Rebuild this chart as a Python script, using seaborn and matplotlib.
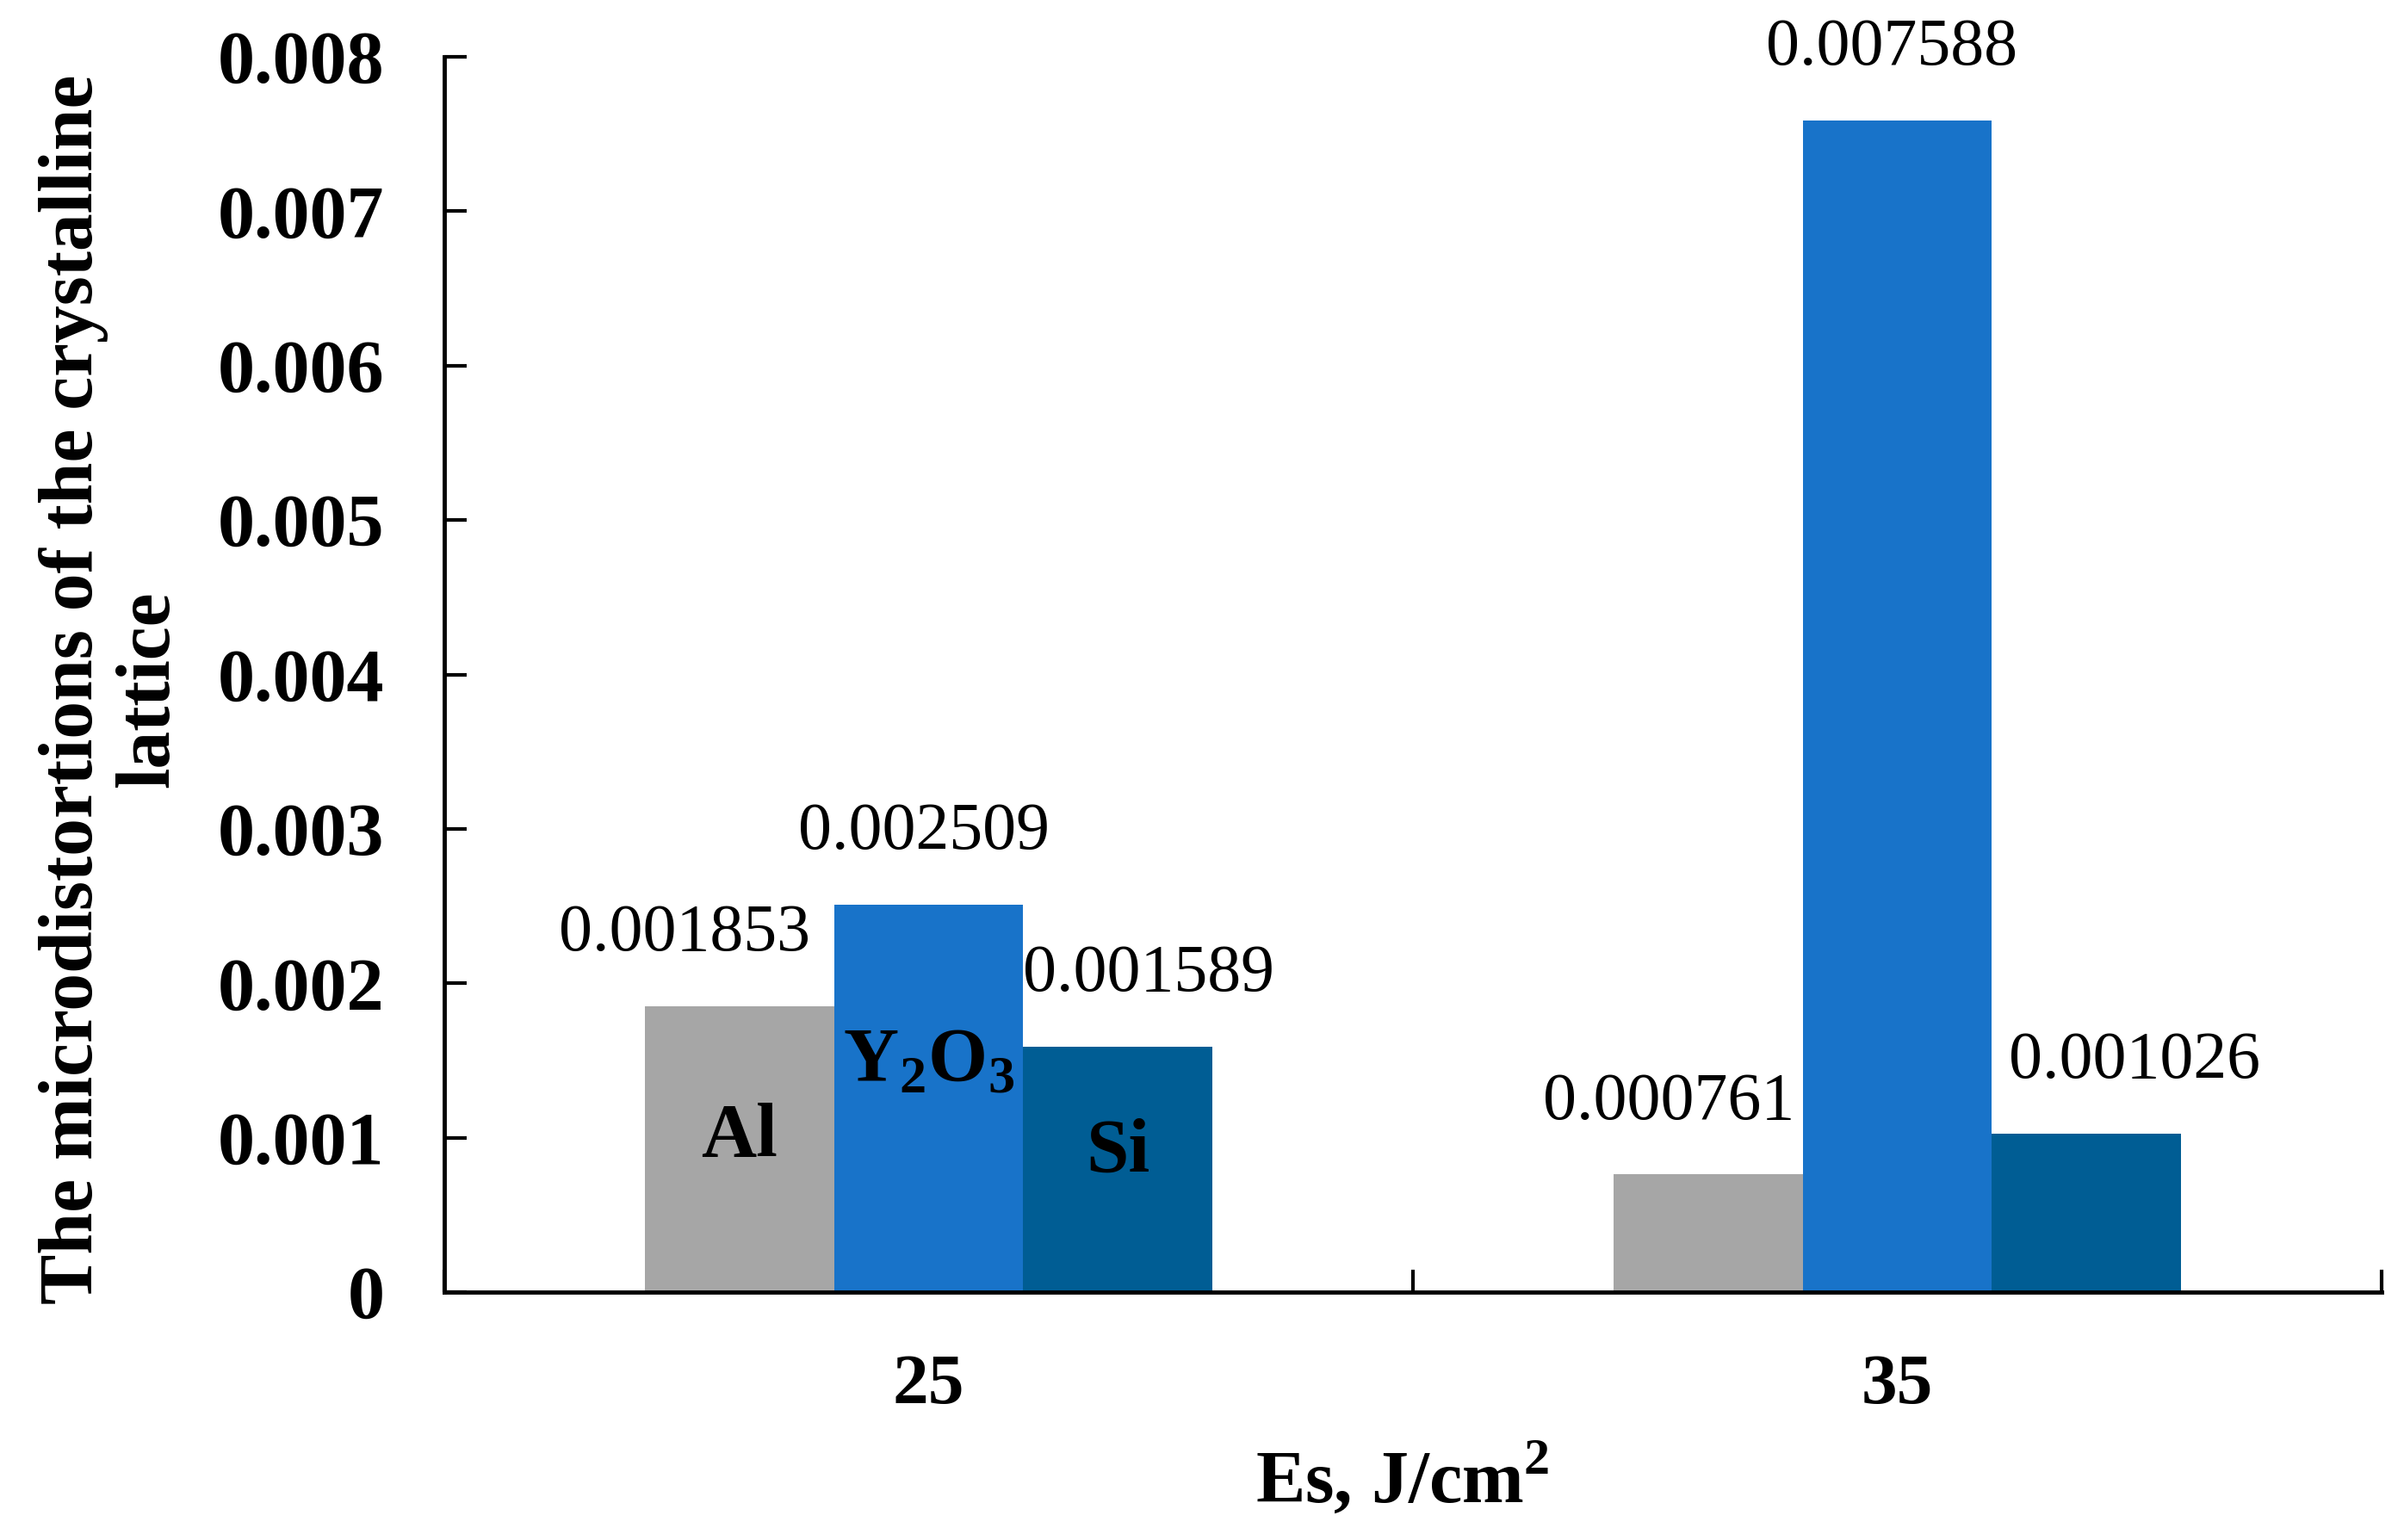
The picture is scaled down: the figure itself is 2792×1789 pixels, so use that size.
import matplotlib
matplotlib.use("Agg")
import matplotlib.pyplot as plt
import seaborn as sns
import pandas as pd
import numpy as np

# ---- data ----
energies = ["25", "35"]
materials = ["Al", "Y2O3", "Si"]
al_values = [0.001853, 0.000761]
y2o3_values = [0.002509, 0.007588]
si_values = [0.001589, 0.001026]
value_texts = {"Al": ["0.001853", "0.000761"],
               "Y2O3": ["0.002509", "0.007588"],
               "Si": ["0.001589", "0.001026"]}
inner_labels = {"Al": "Al", "Y2O3": r"Y$_\mathbf{2}$O$_\mathbf{3}$", "Si": "Si"}
inner_label_y = {"Al": 0.00100, "Y2O3": 0.00149, "Si": 0.00090}
y_ticks = [0, 0.001, 0.002, 0.003, 0.004, 0.005, 0.006, 0.007, 0.008]
y_tick_labels = ["0", "0.001", "0.002", "0.003", "0.004", "0.005", "0.006", "0.007", "0.008"]

colors = {"Al": "#A6A6A6", "Y2O3": "#1873C9", "Si": "#005D94"}
# label offsets (points) per series, per group
label_dx = {"Al": [-46, -33], "Y2O3": [-4, -5], "Si": [26, 40]}
label_dy = 60

df = pd.DataFrame({
    "Es": energies * 3,
    "Material": ["Al"] * 2 + ["Y2O3"] * 2 + ["Si"] * 2,
    "Value": al_values + y2o3_values + si_values,
})

sns.set_theme(style="white")
plt.rcParams["font.family"] = ["Liberation Serif", "DejaVu Serif"]
plt.rcParams["mathtext.fontset"] = "custom"
plt.rcParams["mathtext.rm"] = "Liberation Serif"
plt.rcParams["mathtext.bf"] = "Liberation Serif:bold"

fig = plt.figure(figsize=(27.92, 17.89), dpi=100)
ax = fig.add_axes([516 / 2792, 1 - 1501 / 1789, 2250 / 2792, 1435 / 1789])

sns.barplot(data=df, x="Es", y="Value", hue="Material", order=energies,
            hue_order=materials, palette=colors, width=0.586, gap=0,
            saturation=1, legend=False, ax=ax, linewidth=0)

ax.set_xlim(-0.5, 1.5)
ax.set_ylim(0, 0.008)
ax.set_yticks(y_ticks)
ax.set_yticklabels(y_tick_labels, fontsize=62, fontweight="bold")
ax.set_xticks([0, 1])
ax.set_xticklabels(energies, fontsize=60, fontweight="bold")
ax.set_xticks([-0.5, 0.5, 1.5], minor=True)

for s in ["top", "right"]:
    ax.spines[s].set_visible(False)
for s in ["left", "bottom"]:
    ax.spines[s].set_color("black")
    ax.spines[s].set_linewidth(3.5)

ax.tick_params(axis="y", direction="in", length=19, width=3, color="black",
               pad=50, labelcolor="black", left=True)
ax.tick_params(axis="x", which="major", length=0, pad=52, labelcolor="black")
ax.tick_params(axis="x", which="minor", direction="in", length=19, width=3,
               color="black", bottom=True)

# value labels and inner labels
for mat, cont in zip(materials, ax.containers):
    for i, bar in enumerate(cont):
        cx = bar.get_x() + bar.get_width() / 2
        h = bar.get_height()
        ax.annotate(value_texts[mat][i], xy=(cx, h),
                    xytext=(label_dx[mat][i], label_dy), textcoords="offset points",
                    ha="center", va="center", fontsize=56, color="black")
        if i == 0:
            ax.text(cx, inner_label_y[mat], inner_labels[mat], ha="center",
                    va="center", fontsize=64, fontweight="bold", color="black")

ax.set_ylabel("The microdistortions of the crystalline\nlattice",
              fontsize=63, fontweight="bold", color="black", linespacing=1.12)
ax.yaxis.set_label_coords(-0.134, 0.488)
ax.set_xlabel(r"Es, J/cm$^\mathbf{2}$", fontsize=62, fontweight="bold", color="black")
ax.xaxis.set_label_coords(0.4947, -0.121)

fig.savefig("out.png", dpi=100, facecolor="white")
